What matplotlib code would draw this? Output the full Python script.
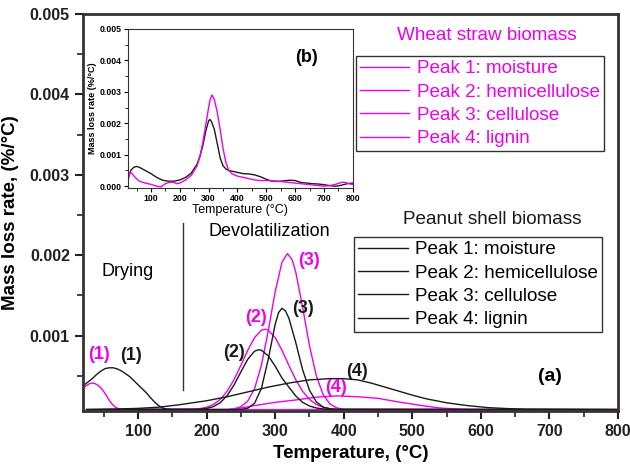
import matplotlib
matplotlib.use("Agg")
import matplotlib.pyplot as plt
from matplotlib.ticker import MultipleLocator, FormatStrFormatter

plt.rcParams['font.family'] = ['Liberation Sans', 'DejaVu Sans']

MAG = '#ee00ee'
BLK = '#1a1a1a'

# ---------------- main panel (a): deconvoluted peaks, values in 1e-3 %/°C ----------------
# Wheat straw (magenta)
w1_x = [20, 25, 30, 33, 37, 42, 47, 52, 57, 62, 67, 72, 77, 800]
w1_y = [0.35, 0.38, 0.405, 0.41, 0.405, 0.38, 0.34, 0.28, 0.21, 0.15, 0.11, 0.09, 0.08, 0.08]
w2_x = [25, 180, 190, 200, 210, 220, 230, 240, 250, 260, 270, 280, 285, 290, 300, 310, 320,
        330, 340, 350, 360, 370, 380, 390, 400, 800]
w2_y = [0.08, 0.085, 0.092, 0.109, 0.144, 0.207, 0.308, 0.452, 0.63, 0.817, 0.976, 1.068, 1.08,
        1.068, 0.976, 0.817, 0.63, 0.452, 0.308, 0.207, 0.144, 0.109, 0.092, 0.084, 0.08, 0.08]
w3_x = [25, 230, 240, 250, 260, 270, 280, 290, 300, 310, 318, 325, 330, 340, 350, 360, 370, 380,
        390, 400, 800]
w3_y = [0.08, 0.082, 0.09, 0.115, 0.185, 0.342, 0.634, 1.062, 1.545, 1.915, 2.02, 1.94, 1.792,
        1.355, 0.877, 0.5, 0.266, 0.148, 0.101, 0.085, 0.08]
w4_x = [25, 230, 240, 270, 300, 330, 360, 390, 420, 450, 480, 510, 540, 570, 585, 800]
w4_y = [0.08, 0.08, 0.085, 0.13, 0.17, 0.2, 0.235, 0.25, 0.24, 0.22, 0.175, 0.135, 0.1, 0.085,
        0.08, 0.08]

# Peanut shell (black)
p1_x = [22, 28, 34, 40, 46, 52, 58, 64, 70, 76, 82, 88, 94, 100, 106, 112, 118, 124, 130, 136,
        142, 150]
p1_y = [0.39, 0.43, 0.47, 0.52, 0.56, 0.59, 0.6, 0.6, 0.585, 0.56, 0.525, 0.49, 0.44, 0.39, 0.34,
        0.29, 0.23, 0.175, 0.13, 0.1, 0.085, 0.08]
p2_x = [25, 190, 200, 210, 220, 230, 240, 250, 260, 270, 276, 280, 290, 300, 310, 320, 330, 340,
        350, 360, 370, 380, 800]
p2_y = [0.08, 0.085, 0.094, 0.117, 0.167, 0.254, 0.386, 0.549, 0.705, 0.807, 0.825, 0.818, 0.748,
        0.621, 0.472, 0.36, 0.25, 0.17, 0.125, 0.1, 0.088, 0.082, 0.08]
p3_x = [25, 240, 250, 260, 270, 280, 290, 300, 305, 310, 315, 320, 330, 340, 350, 360, 370, 380,
        390, 800]
p3_y = [0.08, 0.08, 0.082, 0.097, 0.159, 0.345, 0.71, 1.14, 1.287, 1.34, 1.308, 1.217, 0.915,
        0.577, 0.322, 0.176, 0.11, 0.09, 0.082, 0.08]
p4_x = [26, 60, 100, 130, 160, 200, 230, 260, 290, 320, 350, 380, 400, 420, 440, 460, 480, 500,
        520, 550, 580, 610, 640, 665, 800]
p4_y = [0.08, 0.085, 0.095, 0.11, 0.14, 0.19, 0.24, 0.3, 0.36, 0.41, 0.45, 0.465, 0.465, 0.45,
        0.41, 0.36, 0.31, 0.26, 0.215, 0.165, 0.13, 0.105, 0.092, 0.085, 0.08]

legend_labels = ['Peak 1: moisture', 'Peak 2: hemicellulose', 'Peak 3: cellulose', 'Peak 4: lignin']

# peak number annotations (x, y in 1e-3)
wheat_peak_labels = [('(1)', 43, 0.76), ('(2)', 272, 1.22), ('(3)', 350, 1.93), ('(4)', 388, 0.36)]
peanut_peak_labels = [('(1)', 90, 0.75), ('(2)', 240, 0.79), ('(3)', 340, 1.34), ('(4)', 419, 0.55)]

divider_x = 165
divider_y = (0.32, 2.4)

# ---------------- inset (b): measured DTG curves ----------------
b_black_x = [20, 23, 30, 40, 50, 60, 80, 100, 120, 140, 160, 180, 200, 220, 240, 260, 270, 280,
             290, 300, 305, 310, 320, 330, 340, 350, 360, 370, 380, 400, 420, 440, 460, 480, 500,
             520, 540, 560, 580, 600, 620, 640, 660, 680, 700, 720, 740, 760, 780, 800]
b_black_y = [0.1, 0.3, 0.5, 0.6, 0.63, 0.6, 0.5, 0.4, 0.28, 0.19, 0.16, 0.16, 0.2, 0.28, 0.42,
             0.7, 0.95, 1.3, 1.75, 2.08, 2.12, 2.05, 1.8, 1.35, 0.9, 0.65, 0.55, 0.5, 0.48, 0.44,
             0.4, 0.39, 0.36, 0.3, 0.22, 0.16, 0.15, 0.17, 0.19, 0.18, 0.12, 0.1, 0.08, 0.07, 0.05,
             0.02, 0.0, 0.03, 0.08, 0.1]
b_mag_x = [20, 28, 35, 45, 60, 80, 100, 120, 135, 150, 165, 180, 190, 200, 220, 240, 260, 270,
           280, 290, 300, 305, 312, 320, 330, 340, 350, 360, 370, 380, 400, 420, 440, 460, 480,
           500, 520, 540, 560, 580, 600, 620, 640, 660, 680, 700, 720, 740, 760, 770, 780, 800]
b_mag_y = [0.25, 0.45, 0.4, 0.28, 0.16, 0.1, 0.06, 0.0, -0.02, 0.08, 0.13, 0.12, 0.08, 0.1, 0.2,
           0.35, 0.65, 0.95, 1.4, 1.95, 2.5, 2.75, 2.9, 2.75, 2.35, 1.8, 1.2, 0.75, 0.5, 0.4, 0.32,
           0.28, 0.24, 0.2, 0.18, 0.18, 0.17, 0.16, 0.14, 0.12, 0.1, 0.08, 0.06, 0.04, 0.02, 0.0,
           0.02, 0.06, 0.12, 0.13, 0.1, 0.05]

S = 1e-3

fig = plt.figure(figsize=(6.3, 4.66), dpi=100)
ax = fig.add_axes([0.132, 0.118, 0.849, 0.852])

wheat_lines = []
for xs, ys in [(w1_x, w1_y), (w2_x, w2_y), (w3_x, w3_y), (w4_x, w4_y)]:
    ln, = ax.plot(xs, [v * S for v in ys], color=MAG, lw=1.0)
    wheat_lines.append(ln)
peanut_lines = []
for xs, ys in [(p1_x, p1_y), (p2_x, p2_y), (p3_x, p3_y), (p4_x, p4_y)]:
    ln, = ax.plot(xs, [v * S for v in ys], color=BLK, lw=1.0)
    peanut_lines.append(ln)

for t, x, y in wheat_peak_labels:
    ax.text(x, y * S, t, color=MAG, fontsize=13, fontweight='bold', ha='center', va='center')
for t, x, y in peanut_peak_labels:
    ax.text(x, y * S, t, color=BLK, fontsize=13, fontweight='bold', ha='center', va='center')

ax.plot([divider_x, divider_x], [divider_y[0] * S, divider_y[1] * S], color='#333333', lw=1.0)
ax.text(85, 1.8 * S, 'Drying', fontsize=13, ha='center', va='center')
ax.text(291, 2.29 * S, 'Devolatilization', fontsize=13, ha='center', va='center')
ax.text(700, 0.49 * S, '(a)', fontsize=14, fontweight='bold', ha='center', va='center')

ax.set_xlim(20, 800)
ax.set_ylim(0.0000625, 0.005)
ax.xaxis.set_major_locator(MultipleLocator(100))
ax.xaxis.set_minor_locator(MultipleLocator(50))
ax.yaxis.set_major_locator(MultipleLocator(0.001))
ax.yaxis.set_minor_locator(MultipleLocator(0.0005))
ax.yaxis.set_major_formatter(FormatStrFormatter('%.3f'))
ax.tick_params(which='major', direction='out', length=6, width=1.5, labelsize=11.5, colors='#222222')
ax.tick_params(which='minor', direction='out', length=4, width=1.2, colors='#222222')
for lab in ax.get_xticklabels() + ax.get_yticklabels():
    lab.set_fontweight('bold')
for sp in ax.spines.values():
    sp.set_linewidth(2)
    sp.set_color('#333333')
ax.set_xlabel('Temperature, (°C)', fontsize=13.5, fontweight='bold', labelpad=4)
ax.set_ylabel('Mass loss rate, (%/°C)', fontsize=13.5, fontweight='bold', labelpad=8)

# legends
leg_kw = dict(loc='upper left', fontsize=13.6, frameon=True, fancybox=False, edgecolor='#333333',
              framealpha=1, handlelength=2.6, handletextpad=0.4, labelspacing=0.32,
              borderpad=0.22, borderaxespad=0)
leg1 = ax.legend(wheat_lines, legend_labels, bbox_to_anchor=(0.510, 0.894), **leg_kw)
for t in leg1.get_texts():
    t.set_color(MAG)
leg1.get_frame().set_linewidth(1.0)
ax.add_artist(leg1)
leg2 = ax.legend(peanut_lines, legend_labels, bbox_to_anchor=(0.507, 0.438), **leg_kw)
leg2.get_frame().set_linewidth(1.0)
ax.text(0.755, 0.947, 'Wheat straw biomass', transform=ax.transAxes, color=MAG, fontsize=13.6,
        ha='center', va='center')
ax.text(0.765, 0.483, 'Peanut shell biomass', transform=ax.transAxes, color=BLK, fontsize=13.6,
        ha='center', va='center')

# inset
axb = fig.add_axes([0.203, 0.597, 0.357, 0.341])
axb.plot(b_black_x, [v * S for v in b_black_y], color=BLK, lw=1.0)
axb.plot(b_mag_x, [v * S for v in b_mag_y], color=MAG, lw=1.0)
axb.set_xlim(20, 800)
axb.set_ylim(-0.00005, 0.005)
axb.xaxis.set_major_locator(MultipleLocator(100))
axb.xaxis.set_minor_locator(MultipleLocator(50))
axb.yaxis.set_major_locator(MultipleLocator(0.001))
axb.yaxis.set_minor_locator(MultipleLocator(0.0005))
axb.yaxis.set_major_formatter(FormatStrFormatter('%.3f'))
axb.tick_params(which='major', direction='out', length=3, width=0.8, labelsize=6.3, pad=1.5)
axb.tick_params(which='minor', direction='out', length=2, width=0.6)
for lab in axb.get_xticklabels() + axb.get_yticklabels():
    lab.set_fontweight('bold')
for sp in axb.spines.values():
    sp.set_linewidth(0.8)
    sp.set_color('#333333')
axb.set_xlabel('Temperature (°C)', fontsize=9, labelpad=1)
axb.set_ylabel('Mass loss rate (%/°C)', fontsize=6.5, fontweight='bold', labelpad=2)
axb.text(640, 0.0041, '(b)', fontsize=13, fontweight='bold', ha='center', va='center')

fig.savefig('out.png', dpi=100)
